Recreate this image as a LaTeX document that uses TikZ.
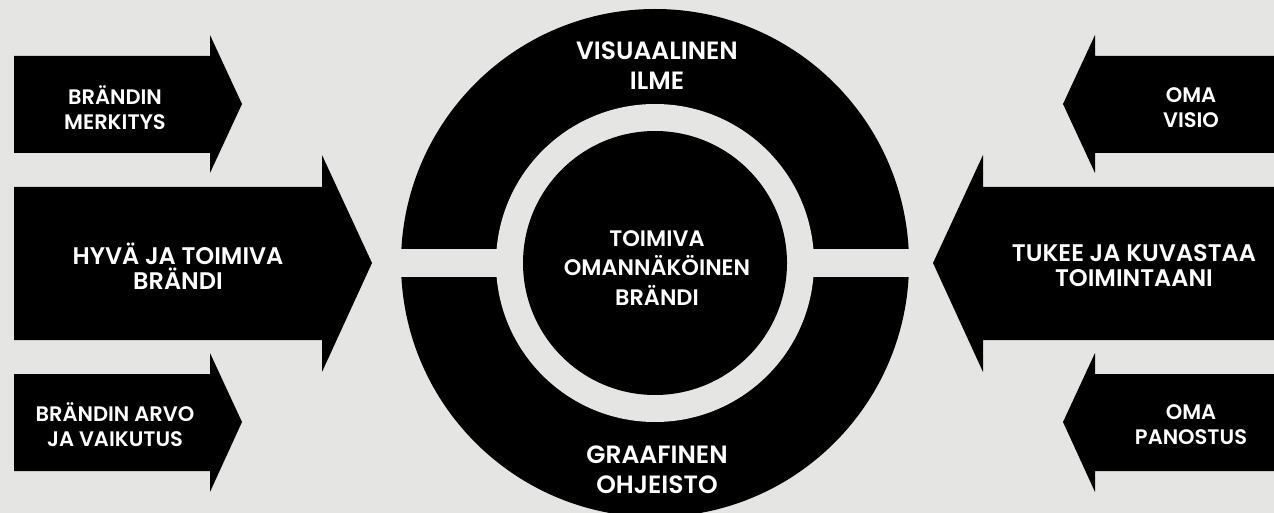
\documentclass[tikz,border=0pt]{standalone}
\usepackage{fontspec}
\setmainfont{Poppins}[BoldFont={Poppins SemiBold}]
\usepackage{tikz}
\usetikzlibrary{positioning}
\definecolor{bggray}{RGB}{229,229,227}
\tikzset{
  arrowfill/.style={fill=black},
  smalltxt/.style={text=white, align=center, inner sep=0pt,
                   font=\fontsize{21}{25}\selectfont\bfseries},
  bigtxt/.style={text=white, align=center, inner sep=0pt,
                 font=\fontsize{24}{25}\selectfont\bfseries},
  ringtxt/.style={text=white, align=center, inner sep=0pt,
                  font=\fontsize{25}{30}\selectfont\bfseries},
  coretxt/.style={text=white, align=center, inner sep=0pt,
                  font=\fontsize{22.4}{29.5}\selectfont\bfseries},
}
\begin{document}
\begin{tikzpicture}[x=1pt,y=-1pt]
  \useasboundingbox (0,0) rectangle (1274,513);
  \clip (0,0) rectangle (1274,513);
  \fill[bggray] (0,0) rectangle (1274,513);

  % left arrows
  \fill[arrowfill] (14,56)--(210,56)--(210,35)--(242,104)--(210,173)--(210,153)--(14,153)--cycle;
  \fill[arrowfill] (14,187)--(322,187)--(322,155)--(372,263)--(322,372)--(322,340)--(14,340)--cycle;
  \fill[arrowfill] (14,374)--(210,374)--(210,353)--(242,422)--(210,492)--(210,471)--(14,471)--cycle;
  \node[smalltxt] (merkitys) at (115,108) {BRÄNDIN\\MERKITYS};
  \node[bigtxt]   (hyva)     at (178,266) {HYVÄ JA TOIMIVA\\BRÄNDI};
  \node[smalltxt] (arvo)     at (115,425) {BRÄNDIN ARVO\\JA VAIKUTUS};

  % right arrows
  \fill[arrowfill] (1274,56)--(1095,56)--(1095,35)--(1063,104)--(1095,173)--(1095,153)--(1274,153)--cycle;
  \fill[arrowfill] (1274,187)--(983,187)--(983,155)--(933,263)--(983,372)--(983,340)--(1274,340)--cycle;
  \fill[arrowfill] (1274,374)--(1095,374)--(1095,353)--(1063,422)--(1095,492)--(1095,471)--(1274,471)--cycle;
  \node[smalltxt] (visio)    at (1191,108) {OMA\\VISIO};
  \node[bigtxt]   (tukee)    at (1134,266) {TUKEE JA KUVASTAA\\TOIMINTAANI};
  \node[smalltxt] (panostus) at (1191,425) {OMA\\PANOSTUS};

  % central ring
  \fill[black] (655,263) circle (254pt);
  \fill[bggray] (390,249) rectangle (920,277);
  \fill[bggray] (655,263) circle (159pt);
  \fill[black] (655,263) circle (132pt);
  \node[ringtxt] (ilme)     at (657,66)  {VISUAALINEN\\ILME};
  \node[coretxt] (brandi)   at (657,268) {TOIMIVA\\OMANNÄKÖINEN\\BRÄNDI};
  \node[ringtxt] (ohjeisto) at (657,470) {GRAAFINEN\\OHJEISTO};
\end{tikzpicture}
\end{document}
